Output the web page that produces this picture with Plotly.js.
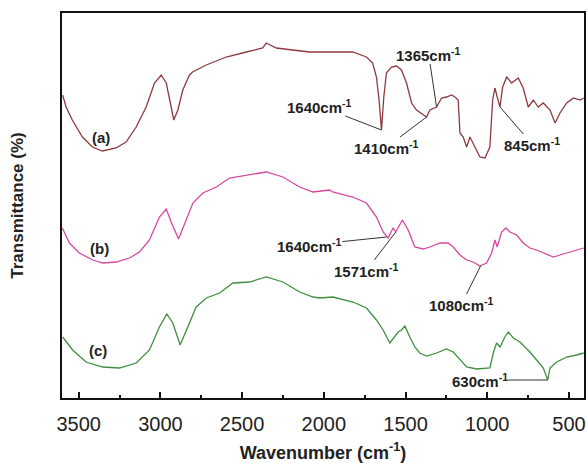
<!DOCTYPE html>
<html>
<head>
<meta charset="utf-8">
<script src="https://cdn.plot.ly/plotly-3.0.1.min.js"></script>
<style>html,body{margin:0;padding:0;background:#fff;}#chart{width:587px;height:463px;}</style>
</head>
<body>
<div id="chart"></div>
<script>
// ---- data ----
const wnA = [3598,3577,3539,3477,3416,3355,3271,3210,3148,3087,3036,2995,2964,2934,2918,2893,2863,2822,2803,2719,2597,2474,2374,2352,2291,2191,2087,1964,1823,1739,1701,1678,1662,1647,1633,1617,1586,1555,1525,1494,1463,1433,1392,1371,1351,1310,1280,1249,1218,1198,1178,1167,1147,1126,1106,1076,1045,1014,984,967,953,939,922,906,881,851,810,780,749,718,688,657,616,585,555,514,473,431,410];
const trA = [303,291,278,261,251,247,250,256,271,291,315,323,315,291,278,288,308,323,326,333,341,346,350,355,350,348,346,346,346,341,335,321,298,268,301,325,331,332,328,315,295,288,283,281,288,291,300,301,303,301,298,265,261,251,261,251,241,240,251,298,310,301,291,311,321,315,320,310,291,298,291,295,288,275,285,295,300,298,300];

const wnB = [3600,3557,3496,3414,3353,3271,3189,3128,3067,3006,2964,2934,2889,2852,2801,2740,2658,2577,2474,2352,2250,2148,2066,1964,1946,1823,1739,1678,1637,1607,1576,1560,1519,1484,1443,1392,1351,1290,1239,1208,1167,1126,1086,1045,1004,973,953,939,912,886,861,820,780,739,698,657,596,555,494,433,410];
const trB = [170,155,145,138,135,136,140,146,158,181,189,176,159,175,195,205,211,220,223,226,221,211,206,208,206,201,195,181,166,160,170,166,178,168,151,149,151,155,155,151,143,138,136,132,135,145,158,151,166,170,166,163,155,150,148,145,141,143,146,149,150];

const wnC = [3598,3537,3455,3353,3251,3148,3067,3006,2961,2924,2879,2842,2781,2719,2638,2556,2454,2352,2250,2148,2066,2025,1944,1821,1739,1678,1637,1596,1566,1545,1525,1504,1474,1443,1413,1371,1310,1249,1208,1167,1126,1065,984,963,943,922,892,871,841,800,769,739,698,657,630,616,575,514,453,410];
const trC = [61,48,36,31,30,35,48,71,84,75,53,68,91,100,105,115,116,121,116,106,101,100,101,96,90,78,68,55,61,66,68,72,61,51,45,42,45,49,46,38,31,29,30,45,55,51,61,66,60,56,51,46,38,30,18,30,36,41,43,45];

const seriesLabels = ["(a)", "(b)", "(c)"];
const seriesLabelWn = [3363, 3373, 3379];
const seriesLabelTr = [261, 150, 48];

const peakText = ["1640cm<sup>-1</sup>", "1365cm<sup>-1</sup>", "1410cm<sup>-1</sup>", "845cm<sup>-1</sup>",
                  "1640cm<sup>-1</sup>", "1571cm<sup>-1</sup>", "1080cm<sup>-1</sup>", "630cm<sup>-1</sup>"];
const peakWn = [1647, 1310, 1371, 922, 1617, 1560, 1041, 630];
const peakTr = [268, 291, 281, 291, 161, 166, 132, 18];

const xTickVals = [3500, 3000, 2500, 2000, 1500, 1000, 500];
const xTickText = ["3500", "3000", "2500", "2000", "1500", "1000", "500"];

// ---- styling / layout ----
const FONT = "Arial, 'Liberation Sans', sans-serif";
const colors = ["#8e3a3f", "#d6489f", "#3f8f3f"];
const peakOffsets = [[-62,-24],[-8,-53],[-40,30],[32,37],[-77,8],[-29,38],[-19,38],[-68,0]];

const traces = [
  {x: wnA, y: trA},
  {x: wnB, y: trB},
  {x: wnC, y: trC}
].map((t, i) => ({
  x: t.x, y: t.y, type: "scatter", mode: "lines",
  line: {color: colors[i], width: 1.3}, hoverinfo: "skip", showlegend: false
}));

const annotations = [];
seriesLabels.forEach((s, i) => annotations.push({
  x: seriesLabelWn[i], y: seriesLabelTr[i], xref: "x", yref: "y",
  text: "<b>" + s + "</b>", showarrow: false, font: {family: FONT, size: 15, color: "#222"}
}));
peakText.forEach((s, i) => annotations.push({
  x: peakWn[i], y: peakTr[i], xref: "x", yref: "y",
  text: "<b>" + s + "</b>", showarrow: true, arrowhead: 0, arrowwidth: 1, arrowcolor: "#333",
  ax: peakOffsets[i][0], ay: peakOffsets[i][1], standoff: 0, borderpad: 0,
  font: {family: FONT, size: 15, color: "#222"}
}));

const layout = {
  width: 587, height: 463,
  margin: {l: 62, r: 3, t: 13, b: 65, pad: 0},
  paper_bgcolor: "#fff", plot_bgcolor: "#fff",
  showlegend: false,
  xaxis: {
    range: [3602, 408], showgrid: false, zeroline: false,
    showline: true, linecolor: "#111", linewidth: 2, mirror: true,
    ticks: "inside", ticklen: 6, tickwidth: 2, tickcolor: "#111",
    tickvals: xTickVals, ticktext: xTickText, ticklabelstandoff: 7,
    tickfont: {family: FONT, size: 20, color: "#222"},
    minor: {dtick: 250, tick0: 0, ticks: "inside", ticklen: 3, tickwidth: 2, tickcolor: "#111", showgrid: false},
    title: {text: "<b>Wavenumber (cm<sup>-1</sup>)</b>", font: {family: FONT, size: 18, color: "#222"}, standoff: 14}
  },
  yaxis: {
    range: [0, 385], showgrid: false, zeroline: false,
    showline: true, linecolor: "#111", linewidth: 2, mirror: true,
    ticks: "", showticklabels: false,
    title: {text: "<b>Transmittance (%)</b>", font: {family: FONT, size: 17, color: "#222"}, standoff: 32}
  },
  annotations: annotations
};

Plotly.newPlot("chart", traces, layout, {displayModeBar: false, staticPlot: true});
</script>
</body>
</html>
